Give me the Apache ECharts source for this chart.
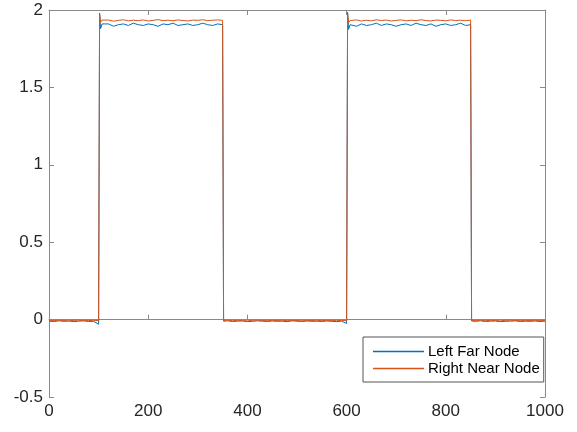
<!DOCTYPE html>
<html>
<head>
<meta charset="utf-8">
<script src="https://cdn.jsdelivr.net/npm/echarts@6/dist/echarts.min.js"></script>
<style>
html,body{margin:0;padding:0;background:#fff;}
#main{width:577px;height:432px;}
</style>
</head>
<body>
<div id="main"></div>
<script type="text/javascript">
// sample positions
var xs = [0,10,20,30,40,50,60,70,80,90,100,
	102,104,107,
	110,120,130,140,150,160,170,180,190,200,210,220,230,240,250,260,270,280,290,300,310,320,330,340,350,
	352,
	360,370,380,390,400,410,420,430,440,450,460,470,480,490,500,510,520,530,540,550,560,570,580,590,600,
	602,604,607,
	610,620,630,640,650,660,670,680,690,700,710,720,730,740,750,760,770,780,790,800,810,820,830,840,850,
	852,
	860,870,880,890,900,910,920,930,940,950,960,970,980,990,1000];

var leftFar = [-0.010,-0.012,-0.008,-0.011,-0.009,-0.013,-0.010,-0.008,-0.012,-0.011,-0.030,
	1.980,1.880,1.910,
	1.900,1.910,1.895,1.905,1.910,1.900,1.915,1.905,1.900,1.910,1.905,1.895,1.910,1.905,1.915,1.900,1.905,1.910,1.900,1.905,1.915,1.905,1.900,1.910,1.905,
	-0.010,
	-0.008,-0.012,-0.010,-0.009,-0.013,-0.011,-0.008,-0.010,-0.012,-0.009,-0.011,-0.010,-0.013,-0.008,-0.010,-0.012,-0.009,-0.011,-0.010,-0.012,-0.009,-0.011,-0.013,-0.010,-0.025,
	1.985,1.875,1.905,
	1.905,1.895,1.910,1.900,1.905,1.915,1.900,1.910,1.905,1.895,1.905,1.910,1.900,1.915,1.905,1.900,1.910,1.895,1.905,1.910,1.900,1.905,1.915,1.900,1.905,
	-0.009,
	-0.011,-0.008,-0.012,-0.010,-0.009,-0.013,-0.011,-0.010,-0.008,-0.012,-0.010,-0.011,-0.009,-0.012,-0.010];

var rightNear = [-0.005,-0.007,-0.004,-0.006,-0.008,-0.005,-0.004,-0.007,-0.006,-0.005,-0.006,
	1.970,1.920,1.935,
	1.930,1.935,1.928,1.933,1.937,1.930,1.934,1.931,1.936,1.929,1.933,1.938,1.931,1.934,1.930,1.936,1.932,1.929,1.935,1.933,1.937,1.931,1.934,1.936,1.933,
	-0.006,
	-0.004,-0.007,-0.005,-0.006,-0.008,-0.005,-0.004,-0.006,-0.007,-0.005,-0.006,-0.004,-0.007,-0.005,-0.006,-0.008,-0.005,-0.006,-0.004,-0.007,-0.005,-0.006,-0.007,-0.005,-0.006,
	1.975,1.918,1.932,
	1.931,1.936,1.929,1.934,1.930,1.937,1.932,1.935,1.929,1.933,1.936,1.930,1.934,1.931,1.937,1.932,1.929,1.935,1.933,1.930,1.936,1.932,1.934,1.931,1.935,
	-0.005,
	-0.006,-0.004,-0.007,-0.005,-0.006,-0.008,-0.005,-0.004,-0.006,-0.007,-0.005,-0.006,-0.004,-0.007,-0.005];

var seriesNames = ['Left Far Node','Right Near Node'];
var xTicks = [0,200,400,600,800,1000];
var yTicks = [-0.5,0,0.5,1,1.5,2];

var myChart = echarts.init(document.getElementById('main'));

function pairs(ys){
	var out = [];
	for(var i=0;i<xs.length;i++){
		out.push([xs[i], ys[i]]);
	}
	return out;
}

var axisColor = '#8a8a8a';
var fontName = 'Liberation Sans, Arial, sans-serif';

var option = {
	animation: false,
	backgroundColor: '#fff',
	grid: {left:49, right:32, top:10, bottom:35},
	legend: {
		data: seriesNames,
		orient: 'vertical',
		left: 363,
		top: 337,
		width: 182,
		padding: [7, 4, 6, 10],
		itemGap: 2,
		itemWidth: 51,
		itemHeight: 1.5,
		icon: 'rect',
		backgroundColor: '#fff',
		borderColor: '#555',
		borderWidth: 1,
		borderRadius: 0,
		textStyle: {color:'#000', fontFamily:fontName, fontSize:15, padding:[0,0,0,-1]}
	},
	xAxis: [{
		type: 'value',
		min: xTicks[0],
		max: xTicks[xTicks.length-1],
		interval: 200,
		axisLine: {show:true, lineStyle:{color:axisColor, width:1}},
		axisTick: {show:true, inside:true, length:5, lineStyle:{color:axisColor}},
		axisLabel: {margin:6, color:'#262626', fontFamily:fontName, fontSize:17, formatter:function(v){return String(v);}},
		splitLine: {show:false}
	},{
		type: 'value',
		position: 'top',
		min: xTicks[0],
		max: xTicks[xTicks.length-1],
		interval: 200,
		axisLine: {show:true, onZero:false, lineStyle:{color:axisColor, width:1}},
		axisTick: {show:true, inside:true, length:5, lineStyle:{color:axisColor}},
		axisLabel: {show:false},
		splitLine: {show:false}
	}],
	yAxis: [{
		type: 'value',
		min: yTicks[0],
		max: yTicks[yTicks.length-1],
		interval: 0.5,
		axisLine: {show:true, onZero:false, lineStyle:{color:axisColor, width:1}},
		axisTick: {show:true, inside:true, length:5, lineStyle:{color:axisColor}},
		axisLabel: {margin:6, color:'#262626', fontFamily:fontName, fontSize:17, formatter:function(v){return String(v);}},
		splitLine: {show:false}
	},{
		type: 'value',
		position: 'right',
		min: yTicks[0],
		max: yTicks[yTicks.length-1],
		interval: 0.5,
		axisLine: {show:true, onZero:false, lineStyle:{color:axisColor, width:1}},
		axisTick: {show:true, inside:true, length:5, lineStyle:{color:axisColor}},
		axisLabel: {show:false},
		splitLine: {show:false}
	}],
	series: [{
		name: seriesNames[0],
		type: 'line',
		data: pairs(leftFar),
		showSymbol: false,
		symbol: 'none',
		color: '#0072BD',
		lineStyle: {width:1}
	},{
		name: seriesNames[1],
		type: 'line',
		data: pairs(rightNear),
		showSymbol: false,
		symbol: 'none',
		color: '#D95319',
		lineStyle: {width:1}
	}]
};
myChart.setOption(option);
</script>
</body>
</html>
